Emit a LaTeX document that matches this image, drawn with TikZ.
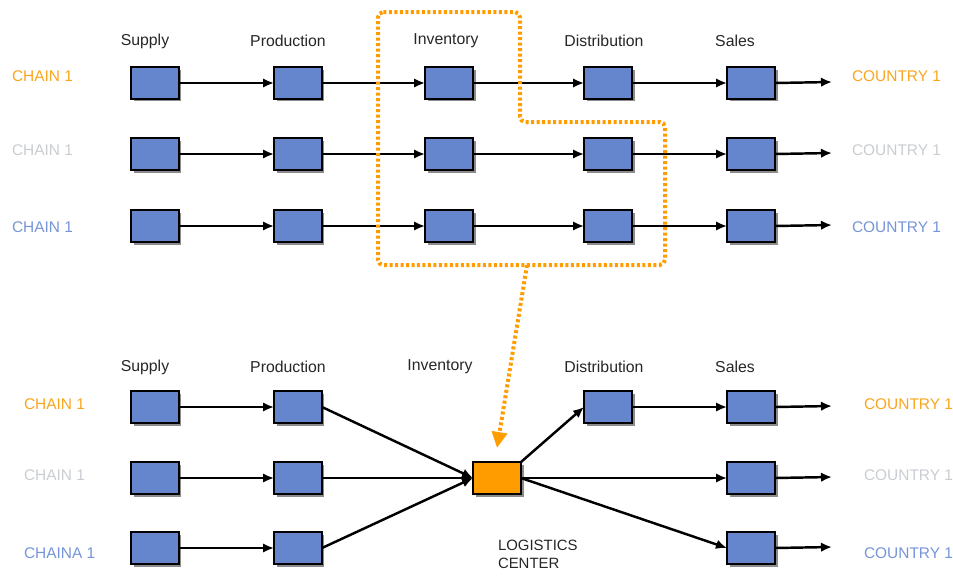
\documentclass[tikz,border=0pt]{standalone}
\usepackage{fontspec}
\setmainfont{Liberation Sans}
\usetikzlibrary{positioning}
\usetikzlibrary{shadows}
\usetikzlibrary{arrows.meta}
\definecolor{boxblue}{HTML}{6586CC}
\definecolor{chainorange}{HTML}{F9A51E}
\definecolor{chaingray}{HTML}{C9CDD2}
\definecolor{chainblue}{HTML}{7595D8}
\definecolor{hubfill}{HTML}{FF9C00}
\tikzset{every node/.style={inner sep=0pt, outer sep=0pt}}
\tikzset{stage/.style={rectangle,draw=black,line width=0.9pt,fill=boxblue,minimum width=0.96cm,minimum height=0.64cm,
    drop shadow={shadow xshift=0.05cm,shadow yshift=-0.05cm,fill=black!45,opacity=1}}}
\tikzset{flow/.style={-{Latex[length=0.22cm,width=0.19cm]},line width=1.4pt}}
\tikzset{head/.style={font=\fontsize{9}{10}\selectfont,text=black!85}}
\tikzset{tag/.style={font=\fontsize{8.8}{10}\selectfont,anchor=west}}
\tikzset{pick/.style={draw=hubfill,line width=0.08cm,dash pattern=on 0.06cm off 0.05cm}}

\begin{document}
\begin{tikzpicture}[x=0.02cm,y=-0.02cm]
    \useasboundingbox (0,0) rectangle (953,575);

    % upper diagram: five stages per chain
    \foreach \n/\x/\t in {1/145/Supply,2/288/Production,3/446/Inventory,4/604/Distribution,5/735/Sales}
        \node[head] (th\n) at (\x,41) {\t};
    \foreach \r/\y/\ly/\c in {1/83/76/chainorange,2/154/150/chaingray,3/226/227/chainblue} {
        \node[tag,text=\c] (tc\r) at (12,\ly) {CHAIN 1};
        \node[tag,text=\c] (tk\r) at (852,\ly) {COUNTRY 1};
        \foreach \n/\x in {1/155,2/298,3/449,4/608,5/751}
            \node[stage] (t\r\n) at (\x,\y) {};
        \coordinate (tout\r) at (832,\y-1);
        \draw[flow] (t\r1) -- (t\r2);
        \draw[flow] (t\r2) -- (t\r3);
        \draw[flow] (t\r3) -- (t\r4);
        \draw[flow] (t\r4) -- (t\r5);
        \draw[flow] (t\r5.east) -- (tout\r);
    }

    % the part that is pulled out into one centre
    \draw[pick,rounded corners=3pt] (378,12) -- (520,12) -- (520,122) -- (665,122) -- (665,265) -- (378,265) -- cycle;

    % lower diagram
    \foreach \n/\x/\t in {1/145/Supply,2/288/Production,3/440/Inventory,4/604/Distribution,5/735/Sales}
        \node[head] (bh\n) at (\x,367) {\t};
    \foreach \r/\y/\ly/\c/\t in {1/407/404/chainorange/CHAIN 1,2/478/475/chaingray/CHAIN 1,3/548/553/chainblue/CHAINA 1} {
        \node[tag,text=\c] (bc\r) at (24,\ly) {\t};
        \node[tag,text=\c] (bk\r) at (864,\ly) {COUNTRY 1};
        \node[stage] (b\r1) at (155,\y) {};
        \node[stage] (b\r2) at (298,\y) {};
        \node[stage] (b\r5) at (751,\y) {};
        \coordinate (bout\r) at (832,\y-1);
        \draw[flow] (b\r1) -- (b\r2);
        \draw[flow] (b\r5.east) -- (bout\r);
    }
    \node[stage,fill=hubfill] (hub) at (497,478) {};
    \node[stage] (b14) at (608,407) {};
    \node[head,align=left,anchor=north west,font=\fontsize{8.5}{10}\selectfont] (hubtext) at (498,540) {LOGISTICS\\CENTER};

    \draw[flow] (b12.east) -- (hub.west);
    \draw[flow] (b22.east) -- (hub.west);
    \draw[flow] (b32.east) -- (hub.west);
    \draw[flow] (hub.north east) -- (b14.west);
    \draw[flow] (hub.east) -- (b25.west);
    \draw[flow] (hub.east) -- (b35.west);
    \draw[flow] (b14) -- (b15);

    \coordinate (drop) at (527,265);
    \draw[pick,-{Triangle[length=0.32cm,width=0.3cm,fill=hubfill]}] (drop) -- ([yshift=0.28cm]hub.north);

\end{tikzpicture}
\end{document}
